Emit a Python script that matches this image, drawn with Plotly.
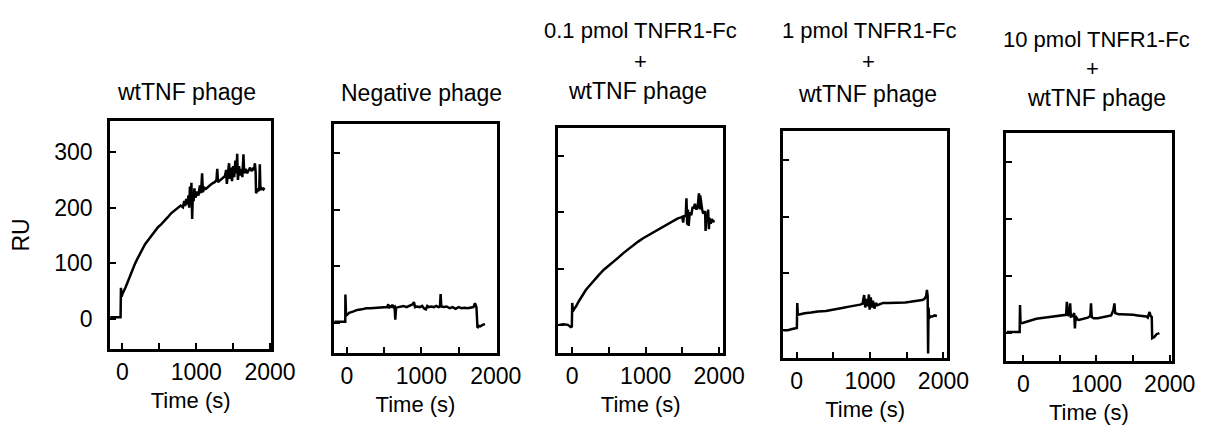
import plotly.graph_objects as go

# ---------------- data ----------------
t_wt = [-165, -100, -50, -25, -20, -10, 0, 20, 40, 70, 106, 140, 173, 206, 239, 270, 305, 350, 394, 440,
        482, 525, 571, 615, 660, 700, 748, 790, 820, 837, 850, 865, 880, 895, 905, 915, 926, 935, 945, 955,
        965, 975, 990, 1014, 1030, 1050, 1065, 1080, 1090, 1110, 1130, 1160, 1191, 1220, 1250, 1275, 1285,
        1295, 1320, 1345, 1368, 1390, 1405, 1415, 1430, 1445, 1457, 1470, 1485, 1500, 1515, 1530, 1545,
        1555, 1565, 1580, 1595, 1610, 1625, 1640, 1650, 1670, 1690, 1710, 1730, 1750, 1770, 1785, 1795,
        1805, 1811, 1830, 1845, 1855, 1862, 1870, 1890, 1910, 1925]
ru_wt = [3, 3, 4, 3, 56, 40, 45, 50, 56, 66, 79, 90, 100, 109, 118, 126, 134, 142, 150, 158,
         165, 170, 176, 183, 190, 194, 200, 204, 201, 212, 203, 216, 206, 222, 200, 238, 205, 245, 180, 228,
         212, 235, 218, 229, 222, 240, 226, 262, 228, 236, 234, 238, 241, 244, 246, 250, 270,
         246, 249, 252, 253, 257, 268, 243, 262, 280, 252, 272, 248, 275, 255, 285, 262,
         297, 250, 275, 258, 270, 255, 296, 262, 270, 262, 268, 272, 266, 270, 268, 280,
         265, 226, 232, 230, 236, 278, 232, 235, 233, 236]

t_neg = [-170, -100, -40, -22, -20, -12, 0, 30, 80, 140, 200, 260, 316, 400, 491, 540, 555, 565, 580, 595,
         610, 625, 640, 650, 660, 690, 720, 760, 800, 840, 870, 886, 900, 915, 940, 980, 1010, 1040, 1061,
         1080, 1100, 1130, 1170, 1200, 1230, 1250, 1259, 1268, 1300, 1340, 1380, 1420, 1460, 1500, 1540,
         1580, 1620, 1660, 1700, 1720, 1740, 1754, 1770, 1790, 1810, 1830, 1855]
ru_neg = [2, 2, 2, 2, 50, 15, 14, 18, 20, 23, 24, 26, 26, 27, 28, 28, 33, 26, 31, 27,
          32, 28, 29, 6, 27, 28, 29, 30, 28, 30, 31, 33, 37, 28, 29, 28, 30, 25, 24,
          30, 28, 29, 28, 30, 28, 29, 51, 29, 28, 29, 26, 28, 25, 28, 26,
          27, 26, 27, 28, 35, 28, -9, -5, -6, -4, -3, -2]

t_01 = [-180, -120, -60, -20, -5, 0, 8, 25, 53, 90, 142, 185, 231, 300, 364, 430, 498, 565, 631, 700,
        764, 830, 898, 965, 1031, 1100, 1164, 1230, 1298, 1365, 1431, 1480, 1498, 1510, 1520, 1545, 1555,
        1565, 1575, 1585, 1600, 1620, 1640, 1653, 1670, 1690, 1710, 1725, 1735, 1742, 1755, 1770, 1785,
        1800, 1809, 1815, 1825, 1835, 1850, 1860, 1870, 1885, 1900, 1920, 1940]
ru_01 = [0, 1, 0, -4, -3, 39, 24, 28, 33, 42, 54, 62, 69, 80, 89, 98, 106, 113, 120, 128,
         135, 142, 148, 154, 159, 164, 169, 175, 180, 185, 189, 191, 192, 182, 193, 194, 225,
         178, 205, 176, 200, 195, 210, 207, 215, 205, 213, 234, 205, 230, 212, 204, 198,
         200, 202, 167, 192, 185, 205, 170, 190, 180, 188, 184, 185]

t_1 = [-180, -120, -60, -20, 5, 10, 18, 50, 111, 200, 289, 400, 511, 620, 733, 800, 867, 900, 920, 935,
       955, 970, 985, 995, 1010, 1025, 1040, 1060, 1080, 1100, 1130, 1178, 1250, 1320, 1400, 1480, 1550,
       1622, 1680, 1711, 1740, 1765, 1775, 1785, 1791, 1797, 1805, 1822, 1850, 1880, 1911]
ru_1 = [0, 0, 2, 3, 4, 48, 27, 28, 30, 31, 33, 34, 36, 39, 42, 43, 45, 47, 62, 40,
        55, 42, 63, 36, 58, 40, 52, 38, 48, 44, 46, 48, 48, 48, 49, 49, 50,
        51, 52, 53, 55, 60, 71, 60, -41, 40, 21, 24, 24, 26, 25]

t_10 = [-225, -150, -80, -50, -45, -38, 0, 44, 100, 177, 280, 398, 500, 550, 585, 595, 605, 625, 640, 650,
        675, 695, 705, 715, 740, 760, 820, 880, 915, 925, 935, 960, 1018, 1080, 1150, 1200, 1230, 1245,
        1255, 1270, 1300, 1328, 1380, 1420, 1460, 1505, 1560, 1620, 1682, 1700, 1715, 1725, 1740, 1755,
        1761, 1790, 1820, 1850, 1860]
ru_10 = [2, 2, 2, 2, 49, 17, 18, 20, 22, 25, 27, 29, 31, 31, 32, 55, 33, 30, 52, 29,
         30, 35, 8, 30, 24, 23, 25, 27, 30, 52, 28, 26, 26, 28, 29, 31, 40, 52,
         35, 34, 33, 33, 33, 32, 33, 32, 31, 30, 29, 27, 35, 37, 30, 28,
         -9, -7, -2, 0, 0]

title_lines = [
    ["wtTNF phage"],
    ["Negative phage"],
    ["0.1 pmol TNFR1-Fc", "+", "wtTNF phage"],
    ["1 pmol TNFR1-Fc", "+", "wtTNF phage"],
    ["10 pmol TNFR1-Fc", "+", "wtTNF phage"],
]
x_tick_labels = ["0", "1000", "2000"]
x_tick_values = [0, 1000, 2000]
y_tick_values = [0, 100, 200, 300]
y_tick_labels = ["0", "100", "200", "300"]
x_title = "Time (s)"
y_title = "RU"

series = [(t_wt, ru_wt), (t_neg, ru_neg), (t_01, ru_01), (t_1, ru_1), (t_10, ru_10)]

# ---------------- layout geometry (pixels in a 1220x425 canvas) ----------------
W, H = 1220, 425
boxes = [  # left, right, top, bottom
    (104, 269, 113, 341),
    (333, 499, 116, 345),
    (562, 730, 120, 345),
    (791, 959, 123, 350),
    (1019, 1188, 125, 353),
]
xranges = [[-170, 2020], [-171, 2013], [-187, 2053], [-187, 2053], [-235, 2027]]
yranges = [[-54, 356], [-53, 351], [-50, 350], [-49, 351], [-49, 351]]
title_pos = [  # list of (x, y, size) per line
    [(182, 84, 23)],
    [(422, 85, 23)],
    [(646, 23, 22), (646, 53, 22), (643, 83, 23)],
    [(879, 23, 22), (879, 53, 22), (877, 86, 23)],
    [(1111, 31, 22), (1107, 60, 22), (1111, 90, 23)],
]

FONT = "Arial, Liberation Sans, Helvetica, sans-serif"
FS = 23

fig = go.Figure()
layout = dict(
    width=W, height=H,
    margin=dict(l=0, r=0, t=0, b=0),
    paper_bgcolor="white", plot_bgcolor="white",
    showlegend=False,
    font=dict(family=FONT, size=FS, color="black"),
)
annotations = []
for i, ((t, ru), (l, r, tp, bt)) in enumerate(zip(series, boxes)):
    n = "" if i == 0 else str(i + 1)
    fig.add_trace(go.Scatter(x=t, y=ru, mode="lines",
                             line=dict(color="black", width=2.5),
                             xaxis="x" + n, yaxis="y" + n, hoverinfo="skip"))
    layout["xaxis" + n] = dict(
        domain=[l / W, r / W], range=xranges[i], anchor="y" + n,
        showgrid=False, zeroline=False, showline=True, linecolor="black", linewidth=2.5, mirror=True,
        ticks="inside", ticklen=6, tickwidth=2, tickcolor="black",
        tickvals=x_tick_values, ticktext=x_tick_labels,
        minor=dict(tickvals=[500, 1500], ticks="inside", ticklen=6, tickwidth=2, tickcolor="black"),
        tickfont=dict(size=FS), ticklabelstandoff=1,
        title=dict(text=x_title, font=dict(size=22), standoff=9),
    )
    layout["yaxis" + n] = dict(
        domain=[(H - bt) / H, (H - tp) / H], range=yranges[i], anchor="x" + n,
        showgrid=False, zeroline=False, showline=True, linecolor="black", linewidth=2.5, mirror=True,
        ticks="inside", ticklen=6, tickwidth=2, tickcolor="black",
        tickvals=y_tick_values, ticktext=y_tick_labels,
        showticklabels=(i == 0), tickfont=dict(size=FS), ticklabelstandoff=10,
    )
    if i == 0:
        layout["yaxis"]["title"] = dict(text=y_title, font=dict(size=FS), standoff=20)
    for text, (px, py, fs) in zip(title_lines[i], title_pos[i]):
        annotations.append(dict(text=text, x=px / W, y=(H - py) / H, xref="paper", yref="paper",
                                xanchor="center", yanchor="middle", showarrow=False,
                                font=dict(size=fs, family=FONT, color="black")))
layout["annotations"] = annotations
fig.update_layout(**layout)
fig.write_html("out.html")
